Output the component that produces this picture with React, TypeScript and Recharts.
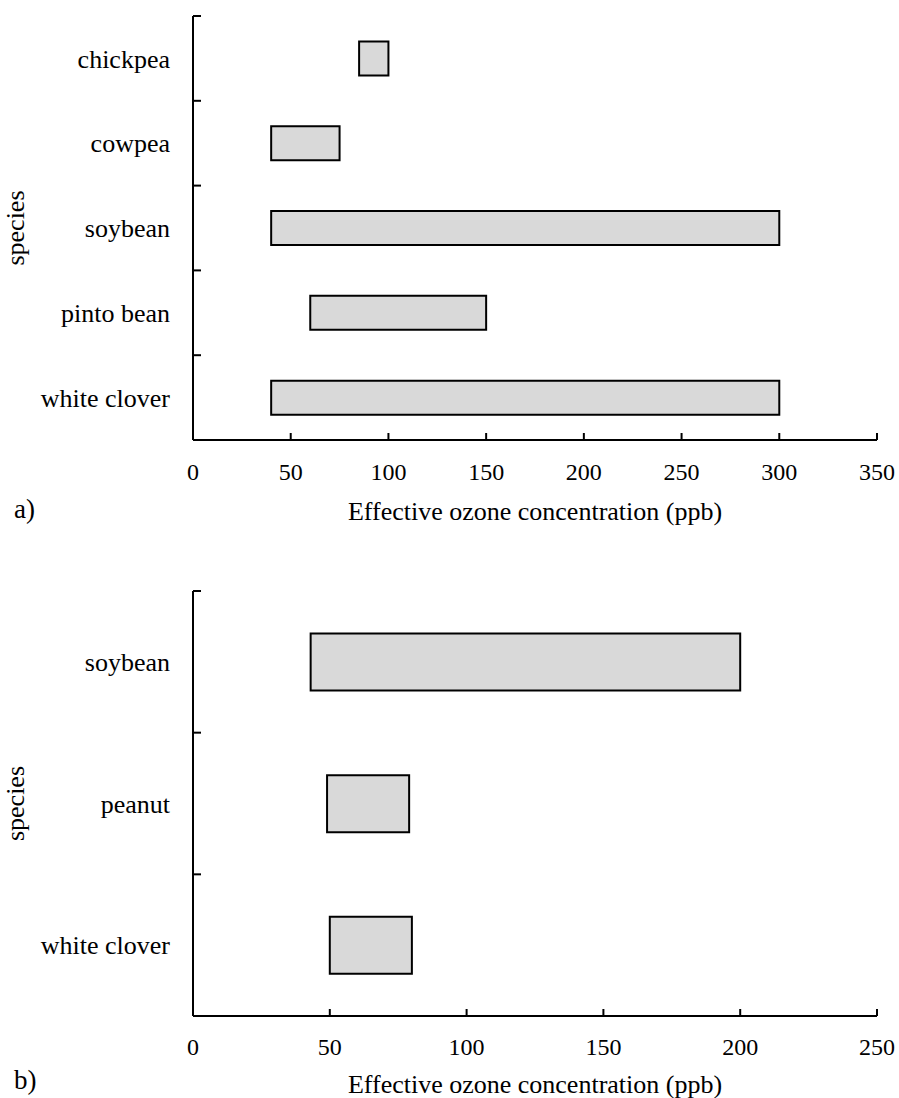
import React from 'react';
import { BarChart, Bar, XAxis, YAxis } from 'recharts';

// Panel a)
const speciesA = ['chickpea', 'cowpea', 'soybean', 'pinto bean', 'white clover'];
const lowA = [85, 40, 40, 60, 40];
const highA = [100, 75, 300, 150, 300];
const xTicksA = [0, 50, 100, 150, 200, 250, 300, 350];

// Panel b)
const speciesB = ['soybean', 'peanut', 'white clover'];
const lowB = [43, 49, 50];
const highB = [200, 79, 80];
const xTicksB = [0, 50, 100, 150, 200, 250];

const xTitle = 'Effective ozone concentration (ppb)';
const yTitle = 'species';

const FONT = '"Liberation Serif", "Times New Roman", Times, serif';
const Y_MARGIN = 23;
const TICK_LEN = 8;

type Row = { species: string; low: number; high: number };

function buildRows(names: string[], lows: number[], highs: number[]): Row[] {
  return names.map((n, i) => ({ species: n, low: lows[i], high: highs[i] }));
}

type PanelProps = {
  data: Row[];
  height: number;
  marginTop: number;
  xAxisHeight: number;
  xTicks: number[];
  tickMargin: number;
  titleDy: number;
  tagDy: number;
  tag: string;
};

function Panel(p: PanelProps) {
  const nCat = p.data.length;
  const xMax = p.xTicks[p.xTicks.length - 1];
  const band = (p.height - p.marginTop - p.xAxisHeight) / nCat;

  const xLabel = (props: any) => {
    const vb = props.viewBox || {};
    return (
      <g>
        <text
          x={vb.x + vb.width / 2}
          y={vb.y + p.titleDy}
          textAnchor="middle"
          fontFamily={FONT}
          fontSize={26}
          fill="#000"
        >
          {xTitle}
        </text>
        <text x={14} y={vb.y + p.tagDy} fontFamily={FONT} fontSize={27} fill="#000">
          {p.tag}
        </text>
      </g>
    );
  };

  const yLabel = (props: any) => {
    const vb = props.viewBox || {};
    const cx = 24;
    const cy = vb.y + vb.height / 2;
    return (
      <text
        x={cx}
        y={cy}
        transform={`rotate(-90 ${cx} ${cy})`}
        textAnchor="middle"
        fontFamily={FONT}
        fontSize={26}
        fill="#000"
      >
        {yTitle}
      </text>
    );
  };

  const yTick = (props: any) => {
    const { x, y, payload } = props;
    const axisX = x + Y_MARGIN;
    const by = y - band / 2;
    return (
      <g>
        <line x1={axisX} y1={by} x2={axisX + TICK_LEN} y2={by} stroke="#000" strokeWidth={2} />
        <text
          x={x}
          y={y}
          dy="0.355em"
          textAnchor="end"
          fontFamily={FONT}
          fontSize={26}
          fill="#000"
        >
          {payload.value}
        </text>
      </g>
    );
  };

  const xTick = (props: any) => {
    const { x, y, payload } = props;
    const axisY = y - p.tickMargin;
    return (
      <g>
        <line x1={x} y1={axisY} x2={x} y2={axisY - 7} stroke="#000" strokeWidth={2} />
        <text
          x={x}
          y={y}
          dy="0.71em"
          textAnchor="middle"
          fontFamily={FONT}
          fontSize={24}
          fill="#000"
        >
          {payload.value}
        </text>
      </g>
    );
  };

  return (
    <BarChart
      layout="vertical"
      width={899}
      height={p.height}
      data={p.data}
      margin={{ top: p.marginTop, right: 22, bottom: 0, left: 0 }}
      barCategoryGap="30%"
    >
      <YAxis
        type="category"
        dataKey="species"
        width={193}
        axisLine={{ stroke: '#000', strokeWidth: 2 }}
        tickLine={false}
        tickSize={0}
        tickMargin={Y_MARGIN}
        tick={yTick}
        interval={0}
        label={yLabel}
      />
      <XAxis
        type="number"
        domain={[0, xMax]}
        ticks={p.xTicks}
        interval={0}
        height={p.xAxisHeight}
        axisLine={{ stroke: '#000', strokeWidth: 2 }}
        tickLine={false}
        tickSize={0}
        tickMargin={p.tickMargin}
        tick={xTick}
        label={xLabel}
      />
      <Bar
        dataKey={(d: Row) => [d.low, d.high]}
        fill="#d9d9d9"
        stroke="#000"
        strokeWidth={2}
        isAnimationActive={false}
      />
    </BarChart>
  );
}

export default function App() {
  const rowsA = buildRows(speciesA, lowA, highA);
  const rowsB = buildRows(speciesB, lowB, highB);
  return (
    <div style={{ position: 'absolute', left: 0, top: 0, width: 899, height: 1098, background: '#fff' }}>
      <Panel
        data={rowsA}
        height={545}
        marginTop={16}
        xAxisHeight={105}
        xTicks={xTicksA}
        tickMargin={23}
        titleDy={80}
        tagDy={78}
        tag="a)"
      />
      <Panel
        data={rowsB}
        height={553}
        marginTop={46}
        xAxisHeight={82}
        xTicks={xTicksB}
        tickMargin={22}
        titleDy={77}
        tagDy={73}
        tag="b)"
      />
    </div>
  );
}
